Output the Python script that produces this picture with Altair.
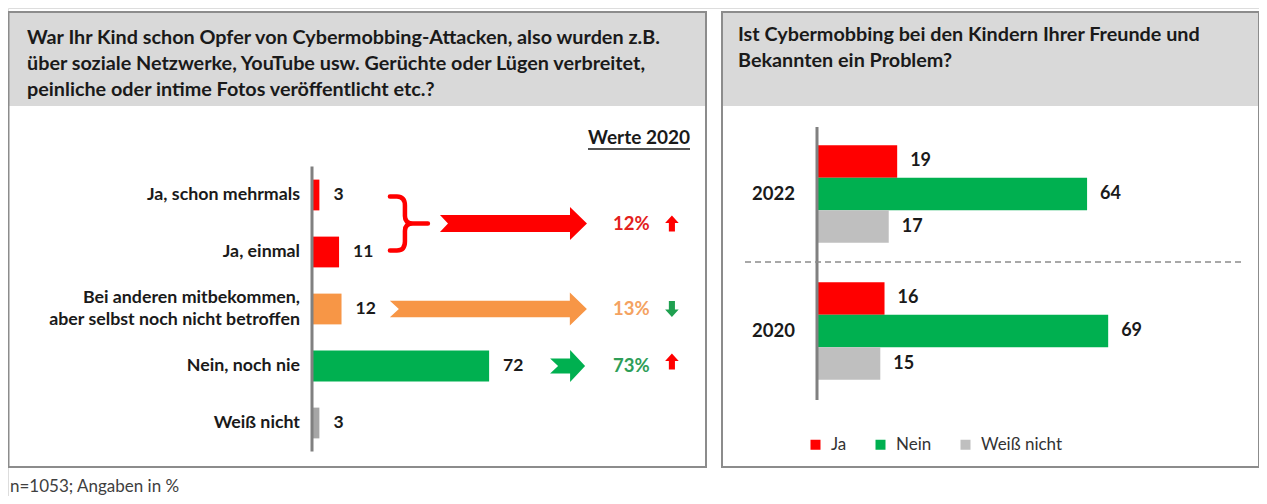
import altair as alt
import pandas as pd

# ---------------- data ----------------
left_cats = ["Ja, schon mehrmals", "Ja, einmal",
             "Bei anderen mitbekommen,\naber selbst noch nicht betroffen",
             "Nein, noch nie", "Weiß nicht"]
left_vals = [3, 11, 12, 72, 3]
left_colors = ["#FF0000", "#FF0000", "#F79646", "#00B050", "#A6A6A6"]

cmp_labels = ["12%", "13%", "73%"]          # Werte 2020
cmp_rows = [0.5, 2, 3]
cmp_colors = ["#E3201B", "#F4A261", "#2E9E57"]
cmp_trend = ["up", "down", "up"]
cmp_trend_colors = ["#FF0000", "#1FA050", "#FF0000"]

right_years = ["2022", "2020"]
right_cats = ["Ja", "Nein", "Weiß nicht"]
right_vals_2022 = [19, 64, 17]
right_vals_2020 = [16, 69, 15]
right_colors = ["#FF0000", "#00B050", "#BFBFBF"]

title_left = ("War Ihr Kind schon Opfer von Cybermobbing-Attacken, also wurden z.B.\n"
              "über soziale Netzwerke, YouTube usw. Gerüchte oder Lügen verbreitet,\n"
              "peinliche oder intime Fotos veröffentlicht etc.?")
title_right = "Ist Cybermobbing bei den Kindern Ihrer Freunde und\nBekannten ein Problem?"
footnote = "n=1053; Angaben in %"

FONT = "Lato"
TXT = "#1a1a1a"
W, H = 1251, 488

# ---------------- scales ----------------
LX = alt.Scale(domain=[0, 100], range=[304, 550], nice=False, zero=False)
LY = alt.Scale(domain=[-0.5, 4.5], range=[158.5, 443.5], nice=False, zero=False)
RX = alt.Scale(domain=[0, 100], range=[809, 1231], nice=False, zero=False)
RY = alt.Scale(domain=right_years, range=[117.5, 391.5], paddingInner=0.288, paddingOuter=0.144)
RO = alt.Scale(domain=right_cats, paddingInner=0, paddingOuter=0)
RO_TXT = alt.Scale(domain=right_cats, type="point", padding=0.5)

df_left = pd.DataFrame({"cat": left_cats, "value": left_vals, "color": left_colors,
                        "row": list(range(len(left_cats)))})
line_rows = []
for i, c in enumerate(left_cats):
    parts = c.split("\n")
    for j, p in enumerate(parts):
        line_rows.append({"text": p, "row": i, "line": j, "n": len(parts)})
df_left_lines = pd.DataFrame(line_rows)

df_cmp = pd.DataFrame({"label": cmp_labels, "row": cmp_rows, "color": cmp_colors,
                       "trend": cmp_trend, "tcolor": cmp_trend_colors})
rows = []
for y, vals in zip(right_years, [right_vals_2022, right_vals_2020]):
    for c, v in zip(right_cats, vals):
        rows.append({"year": y, "cat": c, "value": v})
df_right = pd.DataFrame(rows)
one = pd.DataFrame({"a": [0]})

layers = []

# ---------------- panel frames ----------------
def box(x1, x2, y1, y2, fill=None, stroke=None, sw=0):
    kw = {}
    if fill:
        kw["fill"] = fill
    else:
        kw["fillOpacity"] = 0
    if stroke:
        kw["stroke"] = stroke
        kw["strokeWidth"] = sw
    return alt.Chart(one).mark_rect(**kw).encode(
        x=alt.value(x1), x2=alt.value(x2), y=alt.value(y1), y2=alt.value(y2))

layers += [
    box(1, 697, 5, 98, fill="#D9D9D9"),
    box(715, 1250, 5, 98, fill="#D9D9D9"),
    box(0.5, 698, 4, 459, stroke="#8C8C8C", sw=2),
    box(714, 1251, 4, 459, stroke="#8C8C8C", sw=2),
]

def txt(text, x, y, size, weight="bold", align="left", baseline="alphabetic", color=TXT, lh=None):
    kw = dict(text=text, align=align, baseline=baseline, fontSize=size, fontWeight=weight,
              font=FONT, color=color, lineBreak="\n")
    if lh:
        kw["lineHeight"] = lh
    return alt.Chart(one).mark_text(**kw).encode(x=alt.value(x), y=alt.value(y))

layers += [
    txt(title_left, 19, 36, 19.8, lh=26),
    txt(title_right, 730, 33, 19.8, lh=26),
    txt(footnote, 2, 479, 17, weight="normal", baseline="middle", color="#404040"),
    txt("Werte 2020", 682, 130, 19, align="right", baseline="middle"),
    alt.Chart(one).mark_rule(color=TXT, strokeWidth=1.5).encode(
        x=alt.value(580), x2=alt.value(682), y=alt.value(141)),
]

# ---------------- left panel ----------------
left_bars = alt.Chart(df_left).transform_calculate(
    zero="0", y0="datum.row - 0.27", y1="datum.row + 0.27"
).mark_rect().encode(
    x=alt.X("zero:Q", scale=LX, axis=None), x2="value:Q",
    y=alt.Y("y0:Q", scale=LY, axis=None), y2="y1:Q",
    color=alt.Color("color:N", scale=None),
)
left_axis = alt.Chart(one).transform_calculate(zero="0", t="-0.5", b="4.5").mark_rule(
    color="#808080", strokeWidth=3).encode(
    x=alt.X("zero:Q", scale=LX, axis=None),
    y=alt.Y("t:Q", scale=LY, axis=None), y2="b:Q")
left_cat_labels = alt.Chart(df_left_lines).transform_calculate(
    ypos="datum.row + (datum.line - (datum.n - 1) / 2) * 0.4"
).mark_text(
    align="right", baseline="middle", fontSize=17.8, fontWeight="bold", font=FONT,
    color=TXT).encode(
    x=alt.value(292), y=alt.Y("ypos:Q", scale=LY, axis=None), text="text:N")
left_val_labels = alt.Chart(df_left).mark_text(
    align="left", baseline="middle", dx=14, fontSize=17.5, fontWeight="bold", font=FONT,
    color=TXT).encode(
    x=alt.X("value:Q", scale=LX, axis=None), y=alt.Y("row:Q", scale=LY, axis=None),
    text="value:Q")
layers += [left_bars, left_axis, left_cat_labels, left_val_labels]

# annotation shapes (unit-box SVG paths for Vega symbols)
ARROW_RED = "M -1 -0.116 L 0.769 -0.116 L 0.769 -0.224 L 1 0 L 0.769 0.224 L 0.769 0.116 L -1 0.116 L -0.891 0 Z"
ARROW_ORA = "M -1 -0.085 L 0.827 -0.085 L 0.827 -0.168 L 1 0 L 0.827 0.168 L 0.827 0.085 L -1 0.085 L -0.909 0 Z"
ARROW_GRN = "M -1 -0.43 L 0.143 -0.43 L 0.143 -0.914 L 1 0 L 0.143 0.914 L 0.143 0.43 L -1 0.43 L -0.543 0 Z"
UP = "M -0.38 1 L -0.38 -0.05 L -0.85 -0.05 L 0 -1 L 0.85 -0.05 L 0.38 -0.05 L 0.38 1 Z"
DOWN = "M -0.38 -1 L -0.38 0.05 L -0.85 0.05 L 0 1 L 0.85 0.05 L 0.38 0.05 L 0.38 -1 Z"
BRACE = ("M -0.633 -0.9 L -0.4 -0.9 Q -0.133 -0.9 -0.133 -0.6 L -0.133 -0.25 "
         "Q -0.133 0 0.133 0 L 0.633 0 M 0.133 0 Q -0.133 0 -0.133 0.25 "
         "L -0.133 0.6 Q -0.133 0.9 -0.4 0.9 L -0.633 0.9")

def shape_at(xval, row, path, size, color, filled=True, sw=0):
    d = pd.DataFrame({"xv": [xval], "row": [row]})
    kw = dict(shape=path, size=size, filled=filled, opacity=1)
    if filled:
        kw.update(fill=color, strokeWidth=0)
    else:
        kw.update(stroke=color, strokeWidth=sw, strokeCap="round", strokeJoin="round")
    return alt.Chart(d).mark_point(**kw).encode(
        x=alt.X("xv:Q", scale=LX, axis=None), y=alt.Y("row:Q", scale=LY, axis=None))

layers += [
    shape_at(39.4, 0.5, BRACE, 3600, "#FF0000", filled=False, sw=4.5),
    shape_at(81.9, 0.5, ARROW_RED, 147 ** 2, "#FF0000"),
    shape_at(71.7, 2, ARROW_ORA, 197 ** 2, "#F79646"),
    shape_at(103.9, 3, ARROW_GRN, 35 ** 2, "#00B050"),
]
for r, t, c in zip(cmp_rows, cmp_trend, cmp_trend_colors):
    layers.append(shape_at(146.3, r - (0.08 if r == 3 else 0), UP if t == "up" else DOWN, 256, c))

cmp_text = alt.Chart(df_cmp).transform_calculate(xv="122.4").mark_text(
    align="left", baseline="middle", fontSize=18.5, fontWeight="bold", font=FONT).encode(
    x=alt.X("xv:Q", scale=LX, axis=None), y=alt.Y("row:Q", scale=LY, axis=None),
    text="label:N", color=alt.Color("color:N", scale=None))
layers.append(cmp_text)

# ---------------- right panel ----------------
right_bars = alt.Chart(df_right).transform_calculate(zero="0").mark_rect().encode(
    x=alt.X("zero:Q", scale=RX, axis=None), x2="value:Q",
    y=alt.Y("year:N", scale=RY, axis=None),
    yOffset=alt.YOffset("cat:N", scale=RO, sort=right_cats),
    color=alt.Color("cat:N", scale=alt.Scale(domain=right_cats, range=right_colors),
                    sort=right_cats,
                    legend=alt.Legend(orient="none", legendX=799, legendY=428,
                                      direction="horizontal", title=None,
                                      symbolType="square", symbolSize=100,
                                      symbolStrokeWidth=0, labelFontSize=17,
                                      labelFont=FONT, labelColor="#333333",
                                      labelOffset=7, columnPadding=25, padding=0)),
)
right_labels = alt.Chart(df_right).mark_text(
    align="left", baseline="middle", dx=13, fontSize=18, fontWeight="bold", font=FONT,
    color=TXT).encode(
    x=alt.X("value:Q", scale=RX, axis=None),
    y=alt.Y("year:N", scale=RY, axis=None),
    yOffset=alt.YOffset("cat:N", scale=RO_TXT, sort=right_cats),
    text="value:Q")
right_year_labels = alt.Chart(pd.DataFrame({"year": right_years})).mark_text(
    align="right", baseline="middle", fontSize=18.5, fontWeight="bold", font=FONT,
    color=TXT).encode(
    x=alt.value(787), y=alt.Y("year:N", scale=RY, axis=None), text="year:N")
right_axis = alt.Chart(one).transform_calculate(zero="0").mark_rule(
    color="#808080", strokeWidth=3).encode(
    x=alt.X("zero:Q", scale=RX, axis=None), y=alt.value(119), y2=alt.value(392))
sep = alt.Chart(one).mark_rule(color="#8C8C8C", strokeWidth=1.5, strokeDash=[6, 4]).encode(
    x=alt.value(737), x2=alt.value(1237), y=alt.value(254))
layers += [right_bars, right_axis, right_labels, right_year_labels, sep]

chart = alt.layer(*layers).resolve_scale(
    x="independent", y="independent", color="independent", yOffset="independent"
).properties(
    width=W, height=H, padding=0, autosize=alt.AutoSizeParams(type="none")
).configure_view(stroke=None).configure(font=FONT)

chart.save("out.html", embed_options={"renderer": "svg", "actions": False})
